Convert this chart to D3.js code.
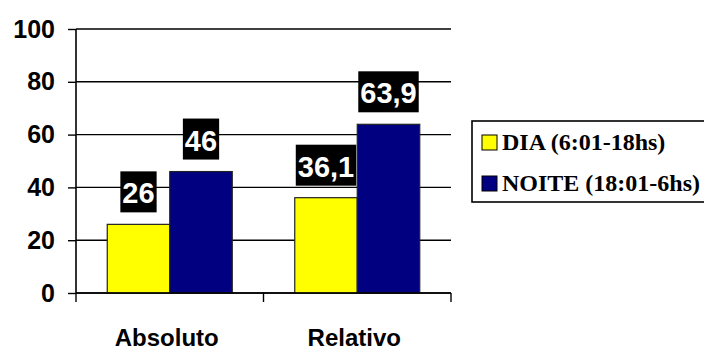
<!DOCTYPE html>
<html>
<head>
<meta charset="utf-8">
<script src="https://cdn.jsdelivr.net/npm/d3@7"></script>
<style>
  html, body { margin: 0; padding: 0; background: #fff; }
  svg { display: block; }
</style>
</head>
<body>
<svg id="chart" width="704" height="351"></svg>
<script>
// Categories, series and values
const categories = ["Absoluto", "Relativo"];
const seriesNames = ["DIA (6:01-18hs)", "NOITE (18:01-6hs)"];
const diaValues = [26, 36.1];
const noiteValues = [46, 63.9];
const valueLabels = [["26", "46"], ["36,1", "63,9"]];
const yTicks = [0, 20, 40, 60, 80, 100];
const seriesColors = ["#FFFF00", "#000080"];

const svg = d3.select("#chart");
const sans = "'Liberation Sans', Arial, sans-serif";
const serif = "'Liberation Serif', 'Times New Roman', serif";

const plot = { left: 76, right: 451, top: 29, bottom: 293 };

const y = d3.scaleLinear().domain([0, 100]).range([plot.bottom, plot.top]);
const x0 = d3.scaleBand().domain(categories).range([plot.left, plot.right]).padding(0);
const x1 = d3.scaleBand().domain(seriesNames).range([0, x0.bandwidth()])
  .paddingInner(0).paddingOuter(0.5);

// Horizontal grid lines
svg.append("g")
  .selectAll("line")
  .data(yTicks)
  .join("line")
  .attr("x1", plot.left).attr("x2", plot.right)
  .attr("y1", d => y(d)).attr("y2", d => y(d))
  .attr("stroke", "#000").attr("stroke-width", 1.4);

// Bars
const rows = categories.map((c, i) => ({
  cat: c,
  vals: [diaValues[i], noiteValues[i]],
  labels: valueLabels[i]
}));

const groups = svg.append("g").selectAll("g")
  .data(rows)
  .join("g")
  .attr("transform", d => `translate(${x0(d.cat)},0)`);

groups.selectAll("rect")
  .data(d => d.vals.map((v, j) => ({ v, s: seriesNames[j], j })))
  .join("rect")
  .attr("x", d => x1(d.s))
  .attr("y", d => y(d.v))
  .attr("width", x1.bandwidth())
  .attr("height", d => y(0) - y(d.v))
  .attr("fill", d => seriesColors[d.j])
  .attr("stroke", "#222")
  .attr("stroke-width", 1.2);

// Value labels: white bold text on black boxes above each bar
groups.each(function (d) {
  const g = d3.select(this);
  d.vals.forEach((v, j) => {
    const cx = x1(seriesNames[j]) + x1.bandwidth() / 2;
    const boxBottom = y(v) - 12;
    const boxH = 41;
    const lbl = g.append("g");
    const rect = lbl.append("rect").attr("fill", "#000");
    const t = lbl.append("text")
      .attr("x", cx)
      .attr("y", boxBottom - 9)
      .attr("text-anchor", "middle")
      .attr("font-family", sans)
      .attr("font-weight", "bold")
      .attr("font-size", 29)
      .attr("fill", "#fff")
      .text(d.labels[j]);
    const w = t.node().getComputedTextLength();
    rect.attr("x", cx - w / 2 - 2)
      .attr("y", boxBottom - boxH)
      .attr("width", w + 4)
      .attr("height", boxH);
  });
});

// Y axis
const yAxis = d3.axisLeft(y).tickValues(yTicks).tickSize(8).tickPadding(13);
const yg = svg.append("g")
  .attr("transform", `translate(${plot.left},0)`)
  .call(yAxis);
yg.select(".domain").attr("stroke", "#000").attr("stroke-width", 1.6)
  .attr("d", `M0,${plot.top}V${plot.bottom}`);
yg.selectAll(".tick line").attr("stroke", "#000").attr("stroke-width", 1.4);
yg.selectAll(".tick text")
  .attr("font-family", sans)
  .attr("font-weight", "bold")
  .attr("font-size", 25)
  .attr("fill", "#000");

// X axis baseline and category separators
const xg = svg.append("g");
xg.append("line")
  .attr("x1", plot.left).attr("x2", plot.right)
  .attr("y1", y(0)).attr("y2", y(0))
  .attr("stroke", "#000").attr("stroke-width", 1.6);
const boundaries = categories.map(c => x0(c)).concat([x0(categories[categories.length - 1]) + x0.bandwidth()]);
xg.selectAll("line.sep")
  .data(boundaries)
  .join("line")
  .attr("class", "sep")
  .attr("x1", d => d).attr("x2", d => d)
  .attr("y1", y(0)).attr("y2", y(0) + 9)
  .attr("stroke", "#000").attr("stroke-width", 1.4);
xg.selectAll("text")
  .data(categories)
  .join("text")
  .attr("x", d => x0(d) + x0.bandwidth() / 2 - 3)
  .attr("y", 346)
  .attr("text-anchor", "middle")
  .attr("font-family", sans)
  .attr("font-weight", "bold")
  .attr("font-size", 24)
  .attr("fill", "#000")
  .text(d => d);

// Legend
const legend = svg.append("g");
legend.append("rect")
  .attr("x", 472).attr("y", 121)
  .attr("width", 240).attr("height", 81)
  .attr("fill", "#fff")
  .attr("stroke", "#000").attr("stroke-width", 1.6);
const items = legend.selectAll("g.item")
  .data(seriesNames)
  .join("g")
  .attr("class", "item")
  .attr("transform", (d, i) => `translate(482,${135 + i * 41})`);
items.append("rect")
  .attr("width", 15).attr("height", 15)
  .attr("fill", (d, i) => seriesColors[i])
  .attr("stroke", "#000").attr("stroke-width", 1);
items.append("text")
  .attr("x", 20).attr("y", 15)
  .attr("font-family", serif)
  .attr("font-weight", "bold")
  .attr("font-size", 24)
  .attr("fill", "#000")
  .text(d => d);
</script>
</body>
</html>
